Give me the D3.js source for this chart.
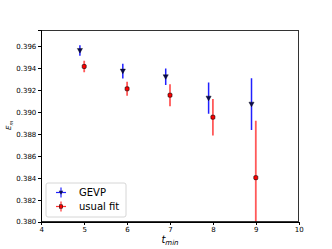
<!DOCTYPE html>
<meta charset="utf-8">
<head>
	<style>
	body { margin: 0; background: #fff; }
	.axis { font: 7px "DejaVu Sans", sans-serif; }
	.axis path, .axis line { fill: none; stroke: #000; shape-rendering: crispEdges; }
	</style>
</head>
<body>
<script src="https://cdn.jsdelivr.net/npm/d3@7"></script>
<script type="text/javascript">
    // data
    var gevpT = [4.9, 5.9, 6.9, 7.9, 8.9];
    var gevpE = [0.39563, 0.39375, 0.39323, 0.39128, 0.39073];
    var gevpErr = [0.00047, 0.00067, 0.00076, 0.00143, 0.00236];

    var fitT = [5, 6, 7, 8, 9];
    var fitE = [0.39417, 0.39213, 0.39155, 0.38954, 0.38402];
    var fitErr = [0.00052, 0.00064, 0.00100, 0.00166, 0.00520];

    var xTicks = [4, 5, 6, 7, 8, 9, 10];
    var yTicks = [0.380, 0.382, 0.384, 0.386, 0.388, 0.390, 0.392, 0.394, 0.396];

    var W = 332, H = 249;
    var m = {left: 41.3, top: 30, right: 33.3, bottom: 27.3};

    var svg = d3.select("body").append("svg")
            .attr("width", W)
            .attr("height", H);

    var x = d3.scaleLinear().domain([4, 10]).range([m.left, W - m.right]);
    var y = d3.scaleLinear().domain([0.380, 0.3975]).range([H - m.bottom, m.top]);

    svg.append("defs").append("clipPath").attr("id", "clip")
            .append("rect")
            .attr("x", x(4)).attr("y", y(0.3975))
            .attr("width", x(10) - x(4)).attr("height", y(0.380) - y(0.3975));

    var plot = svg.append("g").attr("clip-path", "url(#clip)");

    function series(ts, es, errs, barColor, barWidth, marker) {
        var d = ts.map(function(t, i) { return {t: t, e: es[i], err: errs[i]}; });
        plot.selectAll(null).data(d).enter().append("line")
                .attr("x1", function(p) { return x(p.t); })
                .attr("x2", function(p) { return x(p.t); })
                .attr("y1", function(p) { return y(p.e - p.err); })
                .attr("y2", function(p) { return y(p.e + p.err); })
                .attr("stroke", barColor)
                .attr("stroke-width", barWidth);
        marker(plot, d);
    }

    function triMarker(g, d) {
        g.selectAll(null).data(d).enter().append("path")
                .attr("d", "M-2.6,-2 L2.6,-2 L0,2.6 Z")
                .attr("transform", function(p) { return "translate(" + x(p.t) + "," + y(p.e) + ")"; })
                .attr("fill", "#0a0a50")
                .attr("stroke", "#000")
                .attr("stroke-width", 0.4);
    }

    function dotMarker(g, d) {
        g.selectAll(null).data(d).enter().append("rect")
                .attr("x", function(p) { return x(p.t) - 2; })
                .attr("y", function(p) { return y(p.e) - 2; })
                .attr("width", 4).attr("height", 4)
                .attr("rx", 1)
                .attr("fill", "#ff0000")
                .attr("stroke", "#000")
                .attr("stroke-width", 0.6);
    }

    series(gevpT, gevpE, gevpErr, "#2020ff", 1.5, triMarker);
    series(fitT, fitE, fitErr, "#ff5a5a", 1.8, dotMarker);

    // axes
    svg.append("g").attr("class", "axis")
            .attr("transform", "translate(0," + (H - m.bottom) + ")")
            .call(d3.axisBottom(x).tickValues(xTicks).tickSize(3).tickPadding(2).tickFormat(d3.format("d")));
    svg.append("g").attr("class", "axis")
            .attr("transform", "translate(" + m.left + ",0)")
            .call(d3.axisLeft(y).tickValues(yTicks).tickSize(3).tickPadding(2).tickFormat(d3.format(".3f")));

    // frame
    svg.append("rect")
            .attr("x", x(4)).attr("y", y(0.3975))
            .attr("width", x(10) - x(4)).attr("height", y(0.380) - y(0.3975))
            .attr("fill", "none").attr("stroke", "#000").attr("stroke-width", 0.8)
            .attr("shape-rendering", "crispEdges");

    // labels
    var xl = svg.append("text")
            .attr("x", x(7)).attr("y", 243)
            .attr("text-anchor", "middle")
            .style("font", "italic 10px 'DejaVu Sans', sans-serif");
    xl.append("tspan").text("t");
    xl.append("tspan").attr("dy", 2).style("font-size", "7px").text("min");

    var yl = svg.append("text")
            .attr("transform", "translate(11," + y(0.3888) + ") rotate(-90)")
            .attr("text-anchor", "middle")
            .style("font", "italic 7px 'DejaVu Sans', sans-serif");
    yl.append("tspan").text("E");
    yl.append("tspan").attr("dy", 1.5).style("font-size", "5px").text("m");

    // legend
    var lg = svg.append("g").attr("transform", "translate(46,183)");
    lg.append("rect").attr("width", 80).attr("height", 34).attr("rx", 2)
            .attr("fill", "#fff").attr("fill-opacity", 0.8)
            .attr("stroke", "#ccc").attr("stroke-width", 0.8);
    var entries = [
        {label: "GEVP", color: "#2020ff", marker: "tri"},
        {label: "usual fit", color: "#ff3030", marker: "dot"}
    ];
    entries.forEach(function(e, i) {
        var cy = 9.5 + i * 14, cx = 15;
        lg.append("line").attr("x1", cx - 5).attr("x2", cx + 5).attr("y1", cy).attr("y2", cy)
                .attr("stroke", e.color).attr("stroke-width", 1.2);
        lg.append("line").attr("x1", cx).attr("x2", cx).attr("y1", cy - 5).attr("y2", cy + 5)
                .attr("stroke", e.color).attr("stroke-width", 1.2);
        if (e.marker == "tri") {
            lg.append("path").attr("d", "M-2.2,-1.7 L2.2,-1.7 L0,2.2 Z")
                    .attr("transform", "translate(" + cx + "," + cy + ")")
                    .attr("fill", "#0a0a50");
        } else {
            lg.append("rect").attr("x", cx - 1.7).attr("y", cy - 1.7).attr("width", 3.4).attr("height", 3.4)
                    .attr("fill", "#ff0000").attr("stroke", "#000").attr("stroke-width", 0.5);
        }
        lg.append("text").attr("x", 33).attr("y", cy + 3.5)
                .style("font", "10px 'DejaVu Sans', sans-serif")
                .text(e.label);
    });
</script>
</body>
